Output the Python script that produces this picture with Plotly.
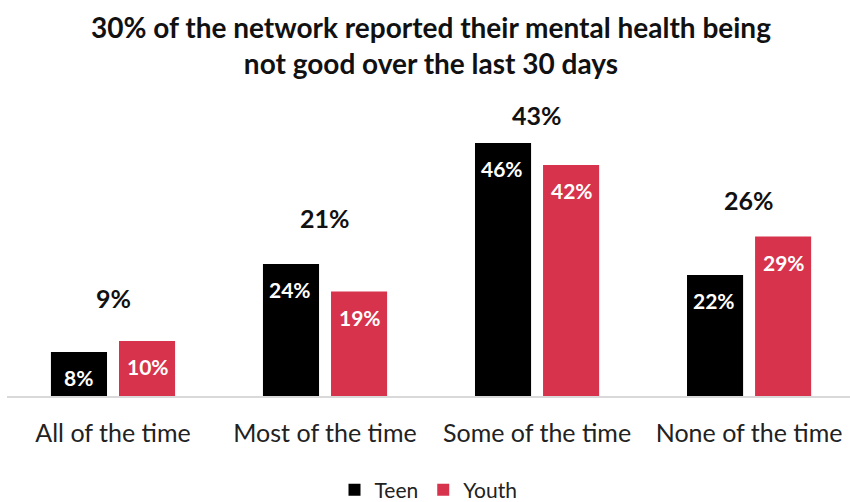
import plotly.graph_objects as go

# Survey responses: share reporting mental health "not good" by frequency
categories = ["All of the time", "Most of the time", "Some of the time", "None of the time"]
teen = [8, 24, 46, 22]
youth = [10, 19, 42, 29]
network = [9, 21, 43, 26]

TEEN_COLOR = "#000000"
YOUTH_COLOR = "#d7334c"
FONT = "Lato"

fig = go.Figure()
fig.add_trace(go.Bar(name="Teen", x=categories, y=teen, marker_color=TEEN_COLOR,
                     marker_line_width=0))
fig.add_trace(go.Bar(name="Youth", x=categories, y=youth, marker_color=YOUTH_COLOR,
                     marker_line_width=0))

annotations = []
# value labels inside the top of each bar
for i, cat in enumerate(categories):
    for j, (vals, off) in enumerate([(teen, -0.165), (youth, 0.165)]):
        annotations.append(dict(
            x=i + off, y=vals[i], xref="x", yref="y", text=f"<b>{vals[i]}%</b>",
            showarrow=False, yanchor="top", yshift=-11,
            font=dict(family=FONT, size=21, color="white"),
        ))
# overall network figure above each group
gaps = [26, 29, 11, 20]
for i, cat in enumerate(categories):
    annotations.append(dict(
        x=i, y=max(teen[i], youth[i]), xref="x", yref="y", text=f"<b>{network[i]}%</b>",
        showarrow=False, yanchor="bottom", yshift=gaps[i],
        font=dict(family=FONT, size=25, color="#111111"),
    ))
# chart heading
annotations.append(dict(
    x=0.503, y=1.278, xref="paper", yref="paper", xanchor="center", yanchor="middle",
    text="<b>30% of the network reported their mental health being<br>not good over the last 30 days</b>",
    showarrow=False, align="center",
    font=dict(family=FONT, size=28, color="#111111"),
))

fig.update_layout(
    width=850, height=502,
    paper_bgcolor="white", plot_bgcolor="white",
    margin=dict(l=7, r=0, t=121, b=106, autoexpand=False),
    barmode="group", bargap=0.358, bargroupgap=0.176,
    xaxis=dict(
        range=[-0.5, 3.476], showgrid=False, ticks="", showline=True,
        linecolor="#d9d9d9", linewidth=1.5,
        tickfont=dict(family=FONT, size=25, color="#222222"),
        tickmode="array", tickvals=[0, 1, 2, 3], ticktext=categories,
        ticklabelstandoff=14,
    ),
    yaxis=dict(range=[0, 50], visible=False),
    legend=dict(
        orientation="h", x=0.5, xanchor="center", y=-0.342, yanchor="middle",
        font=dict(family=FONT, size=21, color="#222222"),
        itemwidth=30,
    ),
    annotations=annotations,
)

fig.write_html("out.html")
